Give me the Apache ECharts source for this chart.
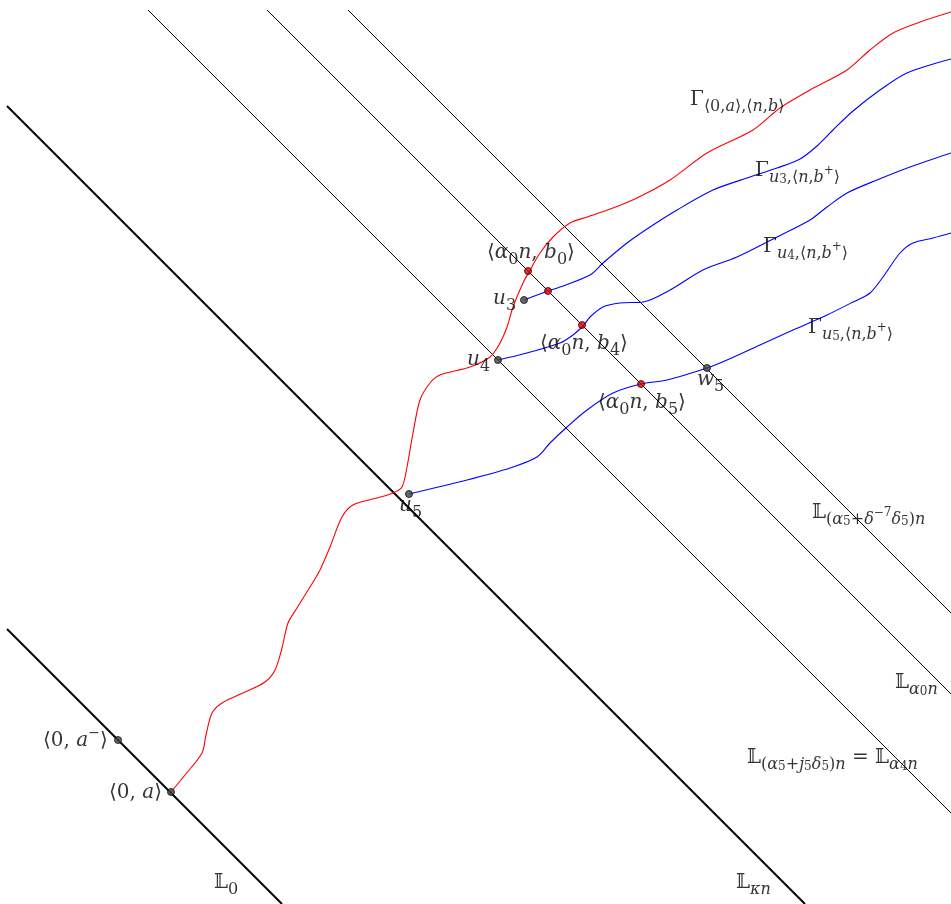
<!DOCTYPE html>
<html>
<head>
<meta charset="utf-8">
<script src="https://cdn.jsdelivr.net/npm/echarts@6/dist/echarts.min.js"></script>
<style>
  html, body { margin: 0; padding: 0; background: #fff; }
  #main { width: 951px; height: 904px; }
</style>
</head>
<body>
<div id="main"></div>
<script>
// diagonal level lines (pixel-like units, y grows downward)
var lineL0 = [[7, 629], [282, 904]];
var lineLkn = [[7, 106], [805, 904]];
var lineA4 = [[148, 10], [951, 813]];
var lineA0 = [[267, 10], [951, 694]];
var lineA5 = [[348, 10], [951, 613]];

// geodesics
var redPath = [[171,792],[185,775],[202,753],[206,735],[212,713],[222,703],[243,693],[265,682],[275,670],[282,648],[288,623],[297,608],[310,587],[320,570],[330,547],[342,517],[353,505],[377,498],[393,493],[402,487],[407,467],[413,433],[420,400],[430,383],[440,375],[470,367],[490,357],[500,343],[507,327],[513,307],[523,283],[529,272],[540,253],[553,237],[570,223],[587,217],[613,208],[637,198],[670,180],[707,153],[753,130],[780,108],[810,90],[847,70],[870,50],[893,33],[920,22],[951,12]];
var pathU3 = [[524,300],[548,291],[560,287],[590,275],[603,263],[627,243],[650,227],[677,210],[713,190],[747,178],[777,168],[800,159],[817,146],[833,130],[853,111],[880,90],[907,73],[951,59]];
var pathU4 = [[498,360],[527,353],[560,343],[573,335],[583,326],[590,317],[603,307],[620,303],[643,302],[670,290],[703,270],[737,257],[777,237],[810,220],[827,207],[847,193],[877,180],[910,167],[951,153]];
var pathU5 = [[409,494],[467,480],[510,468],[537,457],[550,443],[567,427],[587,410],[613,393],[641,384],[667,380],[707,368],[727,360],[760,345],[793,330],[827,315],[853,302],[870,293],[883,277],[900,253],[913,243],[933,238],[951,233]];

// marked points
var darkPts = [[118,740],[171,792],[524,300],[498,360],[409,494],[707,368]];
var redPts = [[528,271],[548,291],[582,325],[641,384]];

// text labels: [left x, centre y, rich text]
var labels = [
  [690, 100, '{r|Γ}{s|⟨0,}{si|a}{s|⟩,⟨}{si|n}{s|,}{si|b}{s|⟩}'],
  [755, 171, '{r|Γ}{si|u}{ss|3}{s|,⟨}{si|n}{s|,}{si|b}{p|+}{s|⟩}'],
  [763, 247, '{r|Γ}{si|u}{ss|4}{s|,⟨}{si|n}{s|,}{si|b}{p|+}{s|⟩}'],
  [808, 328, '{r|Γ}{si|u}{ss|5}{s|,⟨}{si|n}{s|,}{si|b}{p|+}{s|⟩}'],
  [487, 253, '{r|⟨}{i|α}{s|0}{i|n}{r|, }{i|b}{s|0}{r|⟩}'],
  [493, 299, '{i|u}{s|3}'],
  [540, 344, '{r|⟨}{i|α}{s|0}{i|n}{r|, }{i|b}{s|4}{r|⟩}'],
  [467, 360, '{i|u}{s|4}'],
  [697, 380, '{i|w}{s|5}'],
  [598, 403, '{r|⟨}{i|α}{s|0}{i|n}{r|, }{i|b}{s|5}{r|⟩}'],
  [399, 506, '{i|u}{s|5}'],
  [812, 513, '{r|𝕃}{s|(}{si|α}{ss|5}{s|+}{si|δ}{p|−7}{si|δ}{ss|5}{s|)}{si|n}'],
  [895, 683, '{r|𝕃}{si|α}{ss|0}{si|n}'],
  [747, 758, '{r|𝕃}{s|(}{si|α}{ss|5}{s|+}{si|j}{ss|5}{si|δ}{ss|5}{s|)}{si|n}{r| = 𝕃}{si|α}{ss|4}{si|n}'],
  [43, 741, '{r|⟨0, }{i|a}{q|−}{r|⟩}'],
  [109, 793, '{r|⟨0, }{i|a}{r|⟩}'],
  [214, 883, '{r|𝕃}{s|0}'],
  [736, 883, '{r|𝕃}{si|κn}']
];

var FONT = '"DejaVu Serif", "DejaVu Sans", serif';
var TXT = '#000';

function seg(data, width) {
  return {
    type: 'line', data: data, showSymbol: false, silent: true, z: 1,
    lineStyle: { color: '#000', width: width }
  };
}
function curve(data, color) {
  return {
    type: 'line', data: data, showSymbol: false, silent: true, smooth: 0.3, z: 2,
    lineStyle: { color: color, width: 1.1 }
  };
}

var myChart = echarts.init(document.getElementById('main'));

var option = {
  animation: false,
  backgroundColor: '#fff',
  grid: { left: 0, right: 0, top: 0, bottom: 0 },
  xAxis: { type: 'value', min: 0, max: 951, show: false },
  yAxis: { type: 'value', min: 0, max: 904, inverse: true, show: false },
  series: [
    seg(lineL0, 2),
    seg(lineLkn, 2),
    seg(lineA4, 1),
    seg(lineA0, 1),
    seg(lineA5, 1),
    curve(redPath, '#ff0000'),
    curve(pathU3, '#0000ff'),
    curve(pathU4, '#0000ff'),
    curve(pathU5, '#0000ff'),
    {
      type: 'scatter', data: darkPts, symbolSize: 7, z: 5, silent: true,
      itemStyle: { color: '#444', borderColor: '#111', borderWidth: 1 }
    },
    {
      type: 'scatter', data: redPts, symbolSize: 7, z: 5, silent: true,
      itemStyle: { color: '#e00000', borderColor: '#300', borderWidth: 1 }
    },
    {
      type: 'scatter', data: labels, symbolSize: 0, z: 6, silent: true,
      label: {
        show: true, position: 'right', distance: 0,
        formatter: function (p) { return p.value[2]; },
        color: TXT, fontFamily: FONT, fontSize: 20, lineHeight: 30,
        rich: {
          r: { fontFamily: FONT, fontSize: 20, lineHeight: 30, verticalAlign: 'middle', color: TXT },
          i: { fontFamily: FONT, fontSize: 20, lineHeight: 30, fontStyle: 'italic', verticalAlign: 'middle', color: TXT },
          q: { fontFamily: FONT, fontSize: 14, fontStyle: 'italic', verticalAlign: 'top', color: TXT },
          s: { fontFamily: FONT, fontSize: 16, verticalAlign: 'bottom', color: TXT },
          si: { fontFamily: FONT, fontSize: 16, fontStyle: 'italic', verticalAlign: 'bottom', color: TXT },
          ss: { fontFamily: FONT, fontSize: 12, verticalAlign: 'bottom', color: TXT },
          p: { fontFamily: FONT, fontSize: 12, verticalAlign: 'middle', color: TXT }
        }
      }
    }
  ]
};

myChart.setOption(option);
</script>
</body>
</html>
